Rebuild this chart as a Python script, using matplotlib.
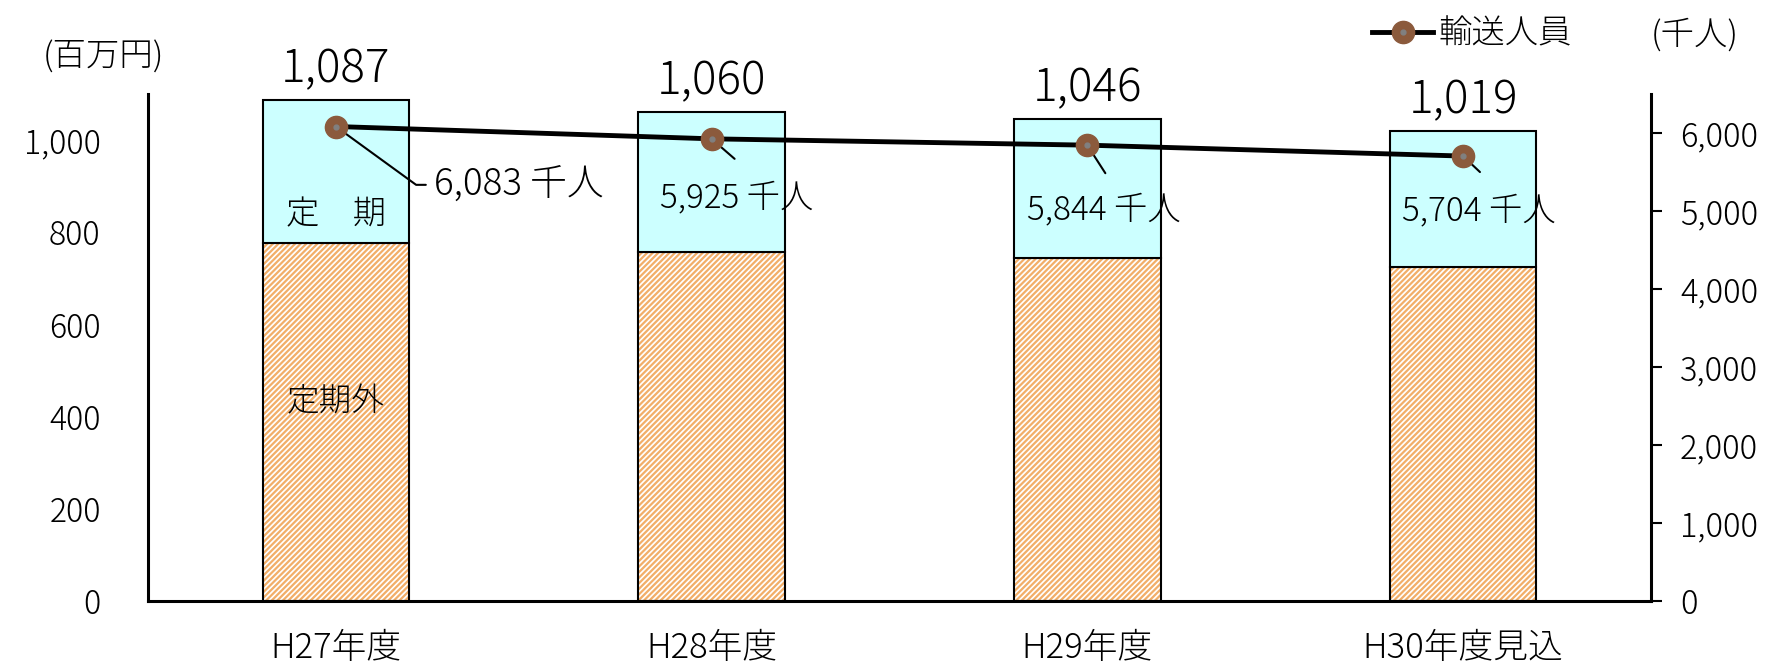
import numpy as np
import matplotlib
matplotlib.use("Agg")
import matplotlib.pyplot as plt
from matplotlib.lines import Line2D
from matplotlib.legend_handler import HandlerTuple

plt.rcParams['font.family'] = ['Noto Sans CJK JP', 'DejaVu Sans']
plt.rcParams['font.weight'] = 'light'
plt.rcParams['hatch.linewidth'] = 1.6

# data
years = ["H27年度", "H28年度", "H29年度", "H30年度見込"]
total = [1087, 1060, 1046, 1019]          # 百万円
teikigai = [776, 757, 744, 725]           # 定期外 (lower part)
passengers = [6083, 5925, 5844, 5704]     # 千人
left_ticks = [0, 200, 400, 600, 800, 1000]
right_ticks = [0, 1000, 2000, 3000, 4000, 5000, 6000]

teiki = [t - g for t, g in zip(total, teikigai)]

CYAN = "#CCFFFF"
ORANGE = "#F2AE68"
BROWN = "#8B5A3C"

fig = plt.figure(figsize=(17.74, 6.67), dpi=100)
ax = fig.add_axes([0.0834, 0.099, 0.8472, 0.7601])
x = np.arange(len(years))
w = 0.39

# lower part: hatched orange, then black outline on top
ax.bar(x, teikigai, w, color="white", edgecolor=ORANGE, hatch="//////", linewidth=0, zorder=2)
ax.bar(x, teikigai, w, fill=False, edgecolor="black", linewidth=1.5, zorder=3)
ax.bar(x, teiki, w, bottom=teikigai, color=CYAN, edgecolor="black", linewidth=1.5, zorder=3)

for xi, t in zip(x, total):
    ax.annotate(f"{t:,}", (xi, t), xytext=(0, 22), textcoords="offset points",
                ha="center", va="center", fontsize=33)

ax.text(0, teikigai[0] + teiki[0] * 0.2, "定\u3000期", ha="center", va="center", fontsize=24, zorder=5)
ax.text(0, teikigai[0] * 0.555, "定期外", ha="center", va="center", fontsize=23.5, zorder=5)

ax.set_xlim(-0.5, 3.5)
ax.set_ylim(0, 1100)
ax.set_yticks(left_ticks)
ax.set_yticklabels([f"{v:,}" for v in left_ticks])
ax.set_xticks(x)
ax.set_xticklabels(years)
ax.tick_params(axis="y", length=0, pad=34, labelsize=23)
ax.tick_params(axis="x", length=0, pad=21, labelsize=25)
for s in ["top", "right"]:
    ax.spines[s].set_visible(False)
for s in ["left", "bottom"]:
    ax.spines[s].set_linewidth(2.2)

# passengers line on right axis
ax2 = ax.twinx()
ax2.set_ylim(0, 6500)
ax2.set_yticks(right_ticks)
ax2.set_yticklabels([f"{v:,}" for v in right_ticks])
ax2.tick_params(axis="y", length=8, width=1.5, pad=13, labelsize=23.5)
for s in ["top", "left", "bottom"]:
    ax2.spines[s].set_visible(False)
ax2.spines["right"].set_linewidth(2.2)

ax2.plot(x, passengers, color="black", lw=3.5, zorder=3)
ax2.plot(x, passengers, ls="none", marker="o", ms=16, mfc=BROWN, mec=BROWN, zorder=4)
ax2.plot(x, passengers, ls="none", marker="o", ms=3.5, mfc="#808080", mec="#808080", zorder=5)

# labels for passengers, offsets in points
text_off = [(70.6, -42), (18, -43), (12.2, -47), (11.5, -39.5)]
lead_off = [(64.8, -42), (16.6, -14.4), (13, -20.2), (12.2, -11.5)]
for i, p in enumerate(passengers):
    if i == 0:
        ax2.annotate(f"{p:,} 千人", (x[i], p), xytext=text_off[i], textcoords="offset points",
                     ha="left", va="center", fontsize=26.5)
        ax2.annotate("", (x[i], p), xytext=lead_off[i], textcoords="offset points",
                     arrowprops=dict(arrowstyle="-", lw=1.5, color="black", shrinkA=0, shrinkB=0,
                                     connectionstyle="angle,angleA=0,angleB=-36,rad=0"))
    else:
        ax2.annotate(f"{p:,} 千人", (x[i], p), xytext=text_off[i], textcoords="offset points",
                     ha="center", va="center", fontsize=24)
        ax2.annotate("", (x[i], p), xytext=lead_off[i], textcoords="offset points",
                     arrowprops=dict(arrowstyle="-", lw=1.5, color="black", shrinkA=0, shrinkB=0))

# unit labels
fig.text(103 / 1774, 1 - 57 / 667, "(百万円)", ha="center", va="center", fontsize=24)
fig.text(1695 / 1774, 1 - 35 / 667, "(千人)", ha="center", va="center", fontsize=24)

# legend
h_line = Line2D([], [], color="black", lw=3.5, marker="o", ms=16, mfc=BROWN, mec=BROWN)
h_dot = Line2D([], [], ls="none", marker="o", ms=3.5, mfc="#808080", mec="#808080")
fig.legend([(h_line, h_dot)], ["輸送人員"], handler_map={tuple: HandlerTuple(ndivide=1)},
           loc="center left", bbox_to_anchor=(1372 / 1774, 1 - 34 / 667), frameon=False,
           fontsize=24, borderpad=0, borderaxespad=0, handlelength=1.83, handletextpad=0.15,
           numpoints=1)

fig.savefig("out.png", dpi=100)
